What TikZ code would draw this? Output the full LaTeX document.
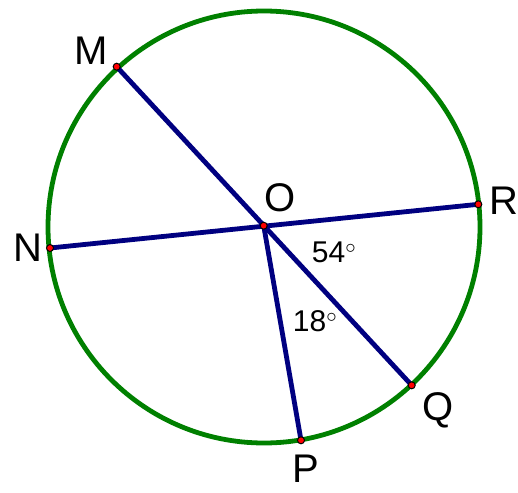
\documentclass[tikz,border=0pt]{standalone}
\usepackage{fontspec}
\setmainfont{Liberation Sans}
\begin{document}
\begin{tikzpicture}[x=1pt,y=-1pt,
  ptlabel/.style={font=\fontsize{40}{40}\selectfont, inner sep=0pt, text=black},
  anglabel/.style={font=\fontsize{30}{30}\selectfont, inner sep=0pt, text=black},
  seg/.style={draw=navyblue, line width=4.8pt},
  dot/.style={circle, fill=red, draw=black, line width=1pt, minimum size=7pt, inner sep=0pt}]
\definecolor{navyblue}{RGB}{0,0,128}
\definecolor{circgreen}{RGB}{0,128,0}
\useasboundingbox (0,0) rectangle (518,492);
\coordinate (C) at (264,227);
\draw[circgreen, line width=4.8pt] (C) circle[radius=216];
\coordinate (O) at (263.7,225.7);
\coordinate (M) at (116.7,66.7);
\coordinate (Q) at (411.7,385.3);
\coordinate (N) at (50,248);
\coordinate (R) at (478.3,204.3);
\coordinate (P) at (301,440.3);
\draw[seg] (M) -- (Q);
\draw[seg] (N) -- (R);
\draw[seg] (O) -- (P);
\foreach \p in {O,M,Q,N,R,P} \node[dot] (d\p) at (\p) {};
\node[ptlabel] (lM) at (91,51) {M};
\node[ptlabel] (lO) at (280,198) {O};
\node[ptlabel] (lR) at (504,201) {R};
\node[ptlabel] (lN) at (28,248) {N};
\node[ptlabel] (lQ) at (438,410) {Q};
\node[ptlabel] (lP) at (306,469) {P};
\node[anglabel] (a54) at (334,252) {54$^{\circ}$};
\node[anglabel] (a18) at (315,321) {18$^{\circ}$};
\end{tikzpicture}
\end{document}
